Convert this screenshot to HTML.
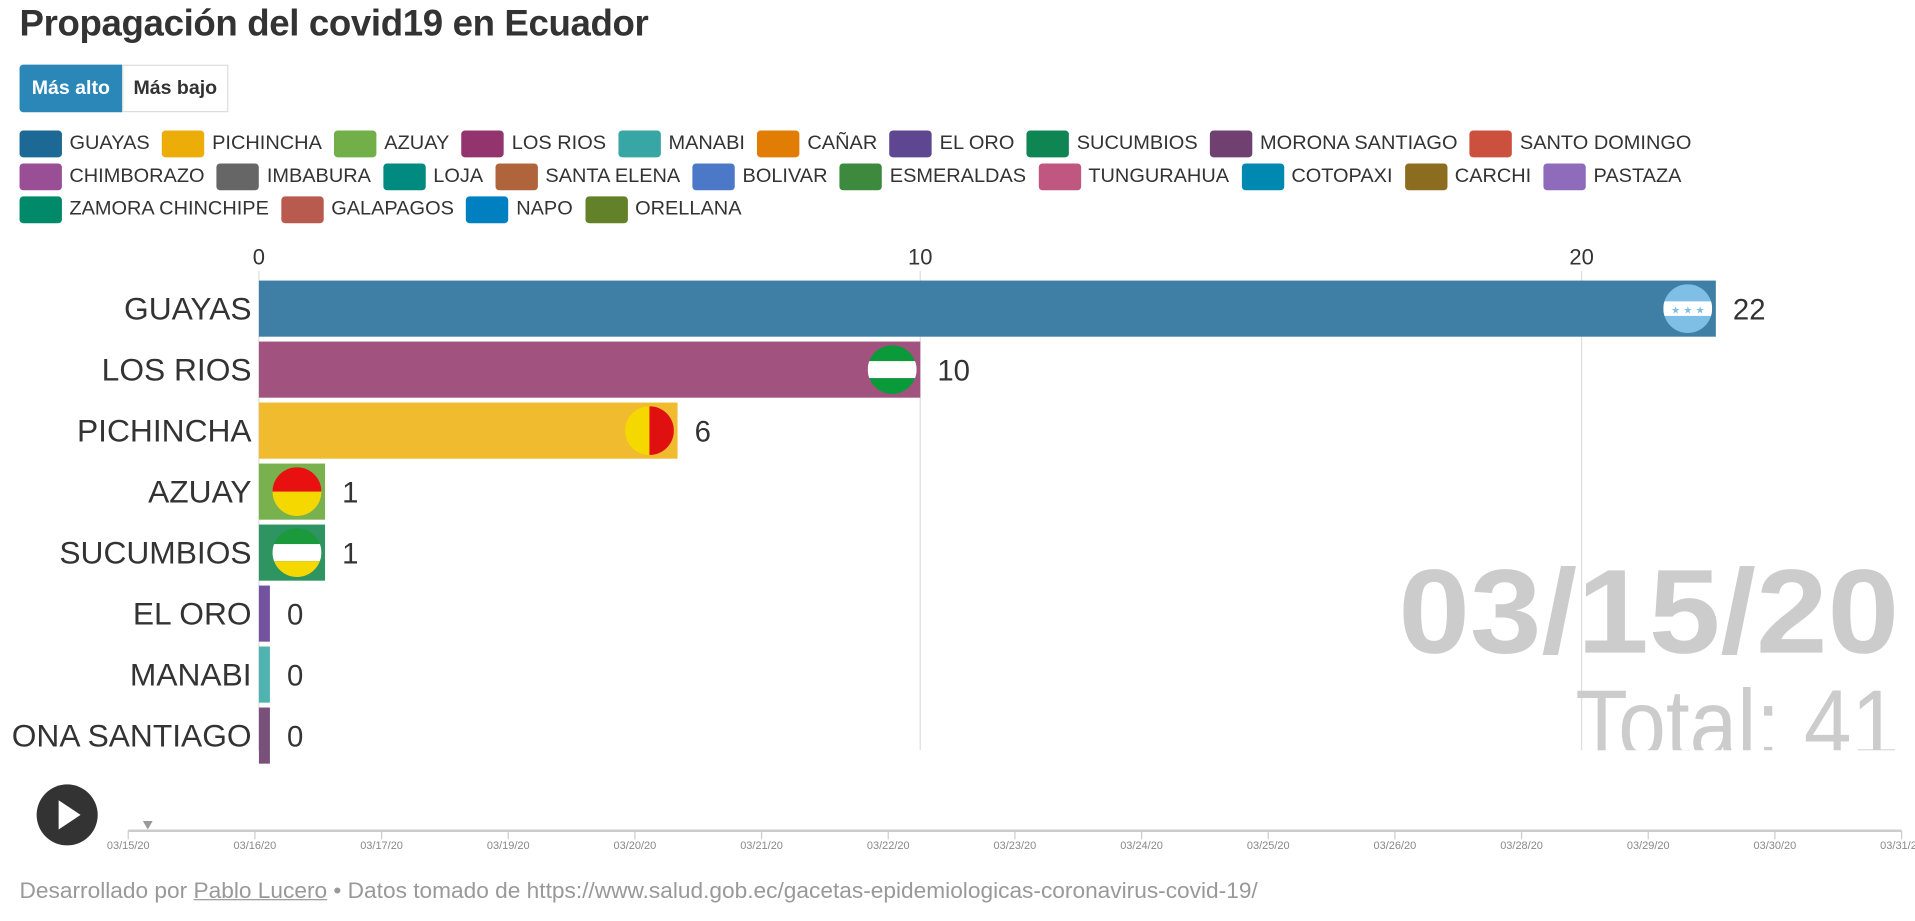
<!DOCTYPE html>
<html><head><meta charset="utf-8">
<style>
html,body{margin:0;padding:0;background:#fff;overflow:hidden;width:1915px;height:921px}
#wrap{position:absolute;left:0;top:0;width:1568px;height:755px;transform-origin:0 0;transform:scale(1.2213,1.2199);font-family:"Liberation Sans",sans-serif;color:#333}
.title{position:absolute;left:16px;top:3px;font-size:30px;font-weight:bold;letter-spacing:-0.3px}
.btn{position:absolute;top:53px;height:39px;line-height:39px;font-size:16px;font-weight:bold;text-align:center}
.lrow{position:absolute;left:16px;display:flex;align-items:center;white-space:nowrap;transform-origin:0 50%;font-size:16px}
.leg{display:flex;align-items:center;margin-right:10px}
.leg span.sw{display:inline-block;width:34px;height:22px;border-radius:3px;margin-right:6px}
.foot{position:absolute;left:16px;top:720px;font-size:18px;color:#999;white-space:nowrap;transform-origin:0 0}
</style></head><body>
<div id="wrap">
<div class="title">Propagación del covid19 en Ecuador</div>
<div class="btn" style="left:16px;width:84px;background:#2b87b8;color:#fff;border-radius:3px 0 0 3px">Más alto</div>
<div class="btn" style="left:100px;width:87px;border:1px solid #ddd;box-sizing:border-box;line-height:37px;color:#333">Más bajo</div>
<div id="legend"></div>
<svg id="chart" width="1568" height="755" style="position:absolute;left:0;top:0"></svg>
<div class="foot" id="foot">Desarrollado por <span style="text-decoration:underline">Pablo Lucero</span> • Datos tomado de https://www.salud.gob.ec/gacetas-epidemiologicas-coronavirus-covid-19/</div>
</div>
<script>
const legendNames=["GUAYAS","PICHINCHA","AZUAY","LOS RIOS","MANABI","CAÑAR","EL ORO","SUCUMBIOS","MORONA SANTIAGO","SANTO DOMINGO","CHIMBORAZO","IMBABURA","LOJA","SANTA ELENA","BOLIVAR","ESMERALDAS","TUNGURAHUA","COTOPAXI","CARCHI","PASTAZA","ZAMORA CHINCHIPE","GALAPAGOS","NAPO","ORELLANA"];
const legendColors=["#1d6996","#edad08","#73af48","#94346e","#38a6a5","#e17c05","#5f4690","#0f8554","#6f4070","#cc503e","#994e95","#666666","#008a80","#b0643c","#4c78c8","#3d8a3f","#c05780","#0089b0","#8c6d1f","#8e6cbb","#008a6a","#b95a4f","#0080c0","#638128"];
const legendRows=[[0,10],[10,20],[20,24]];
const legendRowWidth=[1369,1361,591];
const cats=["GUAYAS","LOS RIOS","PICHINCHA","AZUAY","SUCUMBIOS","EL ORO","MANABI","ONA SANTIAGO"];
const vals=[22.03,10,6.33,1,1,0,0,0];
const barColors=["#3f7fa6","#a2527e","#f0bb2e","#7ab14f","#2e9462","#7353a0","#4fb3b0","#79507a"];
const xTicks=[0,10,20];
const dateLabels=["03/15/20","03/16/20","03/17/20","03/19/20","03/20/20","03/21/20","03/22/20","03/23/20","03/24/20","03/25/20","03/26/20","03/28/20","03/29/20","03/30/20","03/31/20"];
const currentDate="03/15/20";const total=41;

const leg=document.getElementById('legend');
legendRows.forEach((r,ri)=>{
 const row=document.createElement('div');row.className='lrow';row.style.top=(107+ri*27)+'px';
 
 
 for(let i=r[0];i<r[1];i++){
 const d=document.createElement('div');d.className='leg';
 
 
 d.innerHTML='<span class="sw" style="background:'+legendColors[i]+'"></span>'+legendNames[i];
 row.appendChild(d);}
 leg.appendChild(row);
 const w=row.scrollWidth-10;row.style.transform='scaleX('+(legendRowWidth[ri]/w)+')';
});
const ft=document.getElementById('foot');ft.style.transform='scaleX('+(1014/ft.scrollWidth)+')';

const NS='http://www.w3.org/2000/svg',svg=document.getElementById('chart');
function el(t,a,txt,p){const e=document.createElementNS(NS,t);for(const k in a)e.setAttribute(k,a[k]);if(txt!=null)e.textContent=txt;(p||svg).appendChild(e);return e;}
const x=v=>212+v*54.15, y=i=>230+i*50;
xTicks.forEach(t=>{
 const l=el('line',{x1:x(t),x2:x(t),y1:222,y2:615,stroke:'#ddd','stroke-width':1});
 
 const tx=el('text',{x:x(t),y:217,'text-anchor':'middle','font-size':18,fill:'#333','font-family':'Liberation Sans'},t);
 
});
const bd=el('text',{x:1555,y:535,'text-anchor':'end','font-size':98,'font-weight':'bold',fill:'#ccc','font-family':'Liberation Sans',textLength:410,lengthAdjust:'spacingAndGlyphs'},currentDate);

const defs=el('defs',{});
const cp=el('clipPath',{id:'cl'},null,defs);el('rect',{x:0,y:0,width:1568,height:615},null,cp);
const tt=el('text',{x:1555,y:620,'text-anchor':'end','font-size':78,fill:'#ccc','font-family':'Liberation Sans','clip-path':'url(#cl)',textLength:265,lengthAdjust:'spacingAndGlyphs'},'Total: '+total);

const flagStripes=[
 [['#7fbfe6',0,14],['#ffffff',14,26],['#7fbfe6',26,40]],
 [['#0a9a3a',0,13],['#ffffff',13,27],['#0a9a3a',27,40]],
 null,
 [['#e81010',0,20],['#f5d800',20,40]],
 [['#1a9a3a',0,13],['#ffffff',13,27],['#f5d800',27,40]]
];
cats.forEach((c,i)=>{
 const w=Math.max(x(vals[i])-x(0),9);
 const b=el('rect',{x:x(0),y:y(i),width:w,height:46,fill:barColors[i]});
 
 const lb=el('text',{x:206,y:y(i)+32,'text-anchor':'end','font-size':26,fill:'#333','font-family':'Liberation Sans'},c);
 
 const vl=el('text',{x:x(0)+w+14,y:y(i)+32,'font-size':24,fill:'#333','font-family':'Liberation Sans'},Math.round(vals[i]));
 
 if(vals[i]>0){const cx=x(0)+w-23,cy=y(i)+23;
  const c2=el('clipPath',{id:'f'+i},null,defs);el('circle',{cx:cx,cy:cy,r:20},null,c2);
  const g=el('g',{'clip-path':'url(#f'+i+')'});
  
  if(flagStripes[i])flagStripes[i].forEach(s=>el('rect',{x:cx-20,y:cy-20+s[1],width:40,height:s[2]-s[1],fill:s[0]},null,g));
  else{el('rect',{x:cx-20,y:cy-20,width:20,height:40,fill:'#f5d800'},null,g);el('rect',{x:cx,y:cy-20,width:20,height:40,fill:'#e01010'},null,g);}
  if(i==0)[-10,0,10].forEach(d=>el('text',{x:cx+d,y:cy+4,'text-anchor':'middle','font-size':8,fill:'#7fbfe6'},'★',g));
 }
});
const pc=el('circle',{cx:55,cy:668,r:25,fill:'#333'});
el('path',{d:'M48 656L66 668L48 680Z',fill:'#fff'});
const ax=el('line',{x1:105,x2:1557,y1:681,y2:681,stroke:'#ccc','stroke-width':2});
el('path',{d:'M117 673L125 673L121 680Z',fill:'#999'});
dateLabels.forEach((d,i)=>{const tx=105+i*(1452/(dateLabels.length-1));
 el('line',{x1:tx,x2:tx,y1:681,y2:688,stroke:'#ccc'});
 const t=el('text',{x:tx,y:696,'text-anchor':'middle','font-size':9,fill:'#888','font-family':'Liberation Sans'},d);
 });
</script>
</body></html>
